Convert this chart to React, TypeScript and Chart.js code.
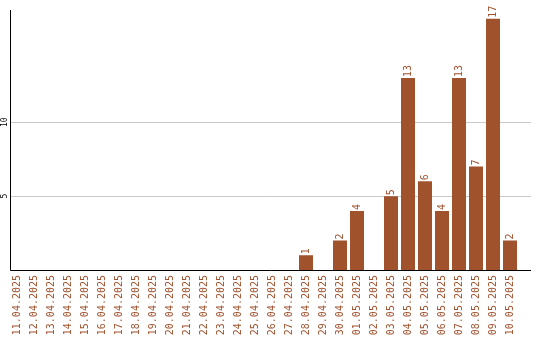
import React, { useEffect, useRef } from "react";
import { Chart, registerables } from "chart.js";

Chart.register(...registerables);

const categories: string[] = [
  "11.04.2025", "12.04.2025", "13.04.2025", "14.04.2025", "15.04.2025",
  "16.04.2025", "17.04.2025", "18.04.2025", "19.04.2025", "20.04.2025",
  "21.04.2025", "22.04.2025", "23.04.2025", "24.04.2025", "25.04.2025",
  "26.04.2025", "27.04.2025", "28.04.2025", "29.04.2025", "30.04.2025",
  "01.05.2025", "02.05.2025", "03.05.2025", "04.05.2025", "05.05.2025",
  "06.05.2025", "07.05.2025", "08.05.2025", "09.05.2025", "10.05.2025",
];

const counts: number[] = [
  0, 0, 0, 0, 0, 0, 0, 0, 0, 0,
  0, 0, 0, 0, 0, 0, 0, 1, 0, 2,
  4, 0, 5, 13, 6, 4, 13, 7, 17, 2,
];

const yTickValues: number[] = [5, 10];
const yMax = 17.6;

const BAR_COLOR = "#A0522D";
const MONO = "'DejaVu Sans Mono', 'Liberation Mono', monospace";

const decorPlugin = {
  id: "decor",
  beforeDatasetsDraw(chart: any) {
    const { ctx, chartArea, scales } = chart;
    const y = scales.y;
    const axisX = Math.round(chartArea.left) + 1.5;
    const rightEnd = chart.width - 9;
    ctx.save();
    ctx.strokeStyle = "#c8c8c8";
    ctx.lineWidth = 1;
    y.ticks.forEach((t: any) => {
      const py = Math.round(y.getPixelForValue(t.value)) + 0.5;
      ctx.beginPath();
      ctx.moveTo(axisX, py);
      ctx.lineTo(rightEnd, py);
      ctx.stroke();
    });
    ctx.fillStyle = "#000";
    ctx.font = `8px ${MONO}`;
    ctx.textAlign = "center";
    ctx.textBaseline = "middle";
    y.ticks.forEach((t: any) => {
      const py = y.getPixelForValue(t.value);
      ctx.save();
      ctx.translate(4.5, py);
      ctx.rotate(-Math.PI / 2);
      ctx.fillText(String(t.value), 0, 0);
      ctx.restore();
    });
    ctx.restore();
  },
  afterDatasetsDraw(chart: any) {
    const { ctx, chartArea, scales } = chart;
    const y = scales.y;
    const axisX = Math.round(chartArea.left) + 1.5;
    const rightEnd = chart.width - 9;
    const baseY = Math.round(y.getPixelForValue(0)) + 0.5;
    ctx.save();
    ctx.strokeStyle = "#000";
    ctx.lineWidth = 1;
    ctx.beginPath();
    ctx.moveTo(axisX, chartArea.top);
    ctx.lineTo(axisX, baseY);
    ctx.lineTo(rightEnd, baseY);
    ctx.stroke();

    const meta = chart.getDatasetMeta(0);
    const data = chart.data.datasets[0].data as number[];
    ctx.fillStyle = BAR_COLOR;
    ctx.font = `10px ${MONO}`;
    ctx.textAlign = "left";
    ctx.textBaseline = "middle";
    meta.data.forEach((bar: any, i: number) => {
      const v = data[i];
      if (!v) return;
      ctx.save();
      ctx.translate(bar.x, bar.y - 1);
      ctx.rotate(-Math.PI / 2);
      ctx.fillText(String(v), 0, 0);
      ctx.restore();
    });
    ctx.restore();
  },
};

export default function App() {
  const canvasRef = useRef<HTMLCanvasElement | null>(null);

  useEffect(() => {
    if (!canvasRef.current) return;
    const chart = new Chart(canvasRef.current, {
      type: "bar",
      data: {
        labels: categories,
        datasets: [
          {
            data: counts,
            backgroundColor: BAR_COLOR,
            borderWidth: 0,
            barPercentage: 14 / 17,
            categoryPercentage: 1,
          },
        ],
      },
      options: {
        responsive: false,
        animation: false,
        devicePixelRatio: 1,
        layout: { padding: { top: 10, right: 21.5, bottom: 0, left: 0 } },
        plugins: {
          legend: { display: false },
          tooltip: { enabled: false },
          title: { display: false },
        },
        scales: {
          x: {
            type: "category",
            offset: true,
            grid: { display: false, drawTicks: false },
            border: { display: false },
            ticks: {
              autoSkip: false,
              minRotation: 90,
              maxRotation: 90,
              padding: 5,
              color: BAR_COLOR,
              font: { family: MONO, size: 10 },
            },
            afterFit: (s: any) => {
              s.height = 70;
            },
          },
          y: {
            min: 0,
            max: yMax,
            grid: { display: false, drawTicks: false },
            border: { display: false },
            ticks: { display: false },
            afterBuildTicks: (s: any) => {
              s.ticks = yTickValues.map((v) => ({ value: v }));
            },
            afterFit: (s: any) => {
              s.width = 8.5;
            },
          },
        },
      },
      plugins: [decorPlugin],
    });
    return () => chart.destroy();
  }, []);

  return (
    <div style={{ position: "absolute", left: 0, top: 0, width: 540, height: 340, background: "#fff" }}>
      <canvas ref={canvasRef} width={540} height={340} />
    </div>
  );
}
